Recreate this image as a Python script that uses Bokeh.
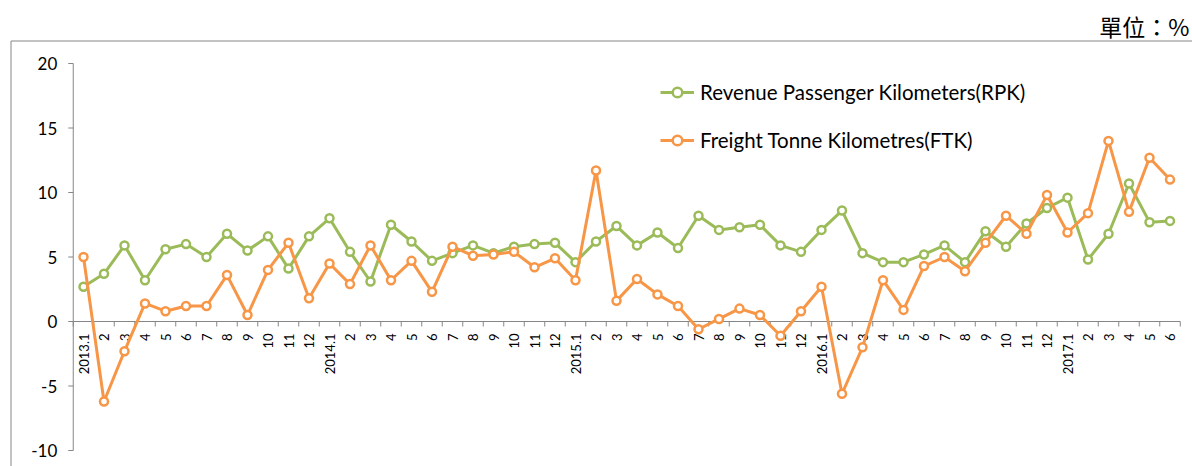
import math
from bokeh.plotting import figure
from bokeh.models import Range1d, Legend, LegendItem, ColumnDataSource
from bokeh.core.properties import value
from bokeh.embed import file_html
from bokeh.resources import INLINE

# ---------------- data ----------------
months = ["2013.1", "2", "3", "4", "5", "6", "7", "8", "9", "10", "11", "12",
          "2014.1", "2", "3", "4", "5", "6", "7", "8", "9", "10", "11", "12",
          "2015.1", "2", "3", "4", "5", "6", "7", "8", "9", "10", "11", "12",
          "2016.1", "2", "3", "4", "5", "6", "7", "8", "9", "10", "11", "12",
          "2017.1", "2", "3", "4", "5", "6"]

rpk = [2.7, 3.7, 5.9, 3.2, 5.6, 6.0, 5.0, 6.8, 5.5, 6.6, 4.1, 6.6,
       8.0, 5.4, 3.1, 7.5, 6.2, 4.7, 5.3, 5.9, 5.3, 5.8, 6.0, 6.1,
       4.6, 6.2, 7.4, 5.9, 6.9, 5.7, 8.2, 7.1, 7.3, 7.5, 5.9, 5.4,
       7.1, 8.6, 5.3, 4.6, 4.6, 5.2, 5.9, 4.6, 7.0, 5.8, 7.6, 8.8,
       9.6, 4.8, 6.8, 10.7, 7.7, 7.8]

ftk = [5.0, -6.2, -2.3, 1.4, 0.8, 1.2, 1.2, 3.6, 0.5, 4.0, 6.1, 1.8,
       4.5, 2.9, 5.9, 3.2, 4.7, 2.3, 5.8, 5.1, 5.2, 5.4, 4.2, 4.9,
       3.2, 11.7, 1.6, 3.3, 2.1, 1.2, -0.6, 0.2, 1.0, 0.5, -1.1, 0.8,
       2.7, -5.6, -2.0, 3.2, 0.9, 4.3, 5.0, 3.9, 6.1, 8.2, 6.8, 9.8,
       6.9, 8.4, 14.0, 8.5, 12.7, 11.0]

y_ticks = [-10, -5, 0, 5, 10, 15, 20]
y_tick_labels = ["-10", "-5", "0", "5", "10", "15", "20"]
series_names = ["Revenue Passenger Kilometers(RPK)", "Freight Tonne Kilometres(FTK)"]
unit_text = "單位：%"

# ---------------- layout (pixels) ----------------
W, H = 1192, 466
X0_PX, X_STEP = 83.0, 20.5      # pixel of first category, pixels per category
Y0_PX, Y_STEP = 321.0, 12.9     # pixel of value 0, pixels per unit

def dx(px):
    return (px - X0_PX) / X_STEP

def dy(py):
    return (Y0_PX - py) / Y_STEP

GREEN = "#9BBB59"
ORANGE = "#F79646"
AXIS = "#868686"
FONT = "Lato"

n = len(months)
xs = list(range(n))

p = figure(width=W, height=H, output_backend="svg", toolbar_location=None,
           x_axis_type=None, y_axis_type=None,
           x_range=Range1d(dx(0), dx(W)), y_range=Range1d(dy(H), dy(0)),
           min_border=0, min_border_left=0, min_border_right=0,
           min_border_top=0, min_border_bottom=0)
p.outline_line_color = None
p.xgrid.visible = False
p.ygrid.visible = False
p.background_fill_color = "white"
p.border_fill_color = "white"

# outer chart-area frame (left and top edges)
p.segment(x0=[dx(10.5), dx(10.5)], y0=[dy(40.5), dy(40.5)],
          x1=[dx(10.5), dx(W + 5)], y1=[dy(H + 5), dy(40.5)],
          line_color=AXIS, line_width=1)

# unit note
p.text(x=[dx(1189)], y=[dy(25)], text=[unit_text], text_align="right",
       text_baseline="middle", text_font=value("Noto Sans CJK TC"),
       text_font_size="23px", text_color="black")

# value axis
x_axis_pos = -0.5
p.segment(x0=[x_axis_pos], y0=[min(y_ticks)], x1=[x_axis_pos], y1=[max(y_ticks)],
          line_color=AXIS, line_width=1)
p.segment(x0=[x_axis_pos] * len(y_ticks), y0=y_ticks,
          x1=[x_axis_pos - 5 / X_STEP] * len(y_ticks), y1=y_ticks,
          line_color=AXIS, line_width=1)
p.text(x=[x_axis_pos] * len(y_ticks), y=y_ticks, text=y_tick_labels,
       x_offset=-16, text_align="right", text_baseline="middle",
       text_font=value(FONT), text_font_size="17px", text_color="black")

# category axis along zero
p.segment(x0=[-0.5], y0=[0], x1=[n - 0.5], y1=[0], line_color=AXIS, line_width=1)
bounds = [k - 0.5 for k in range(n + 1)]
p.segment(x0=bounds, y0=[0] * len(bounds), x1=bounds, y1=[-5 / Y_STEP] * len(bounds),
          line_color=AXIS, line_width=1)
p.text(x=xs, y=[0] * n, text=months, angle=math.pi / 2, text_align="right",
       text_baseline="middle", y_offset=12, text_font=value(FONT),
       text_font_size="13px", text_color="black")

# series
src = ColumnDataSource(dict(x=xs, rpk=rpk, ftk=ftk))
l1 = p.line("x", "rpk", source=src, line_color=GREEN, line_width=3)
s1 = p.scatter("x", "rpk", source=src, size=8, line_color=GREEN, line_width=2.5,
               fill_color="white")
l2 = p.line("x", "ftk", source=src, line_color=ORANGE, line_width=3)
s2 = p.scatter("x", "ftk", source=src, size=8, line_color=ORANGE, line_width=2.5,
               fill_color="white")

legend = Legend(items=[LegendItem(label=series_names[0], renderers=[l1, s1]),
                       LegendItem(label=series_names[1], renderers=[l2, s2])],
                location=(660, 314), orientation="vertical",
                border_line_color=None, background_fill_alpha=0,
                padding=0, margin=0, spacing=24, glyph_width=34, glyph_height=24,
                label_height=24, label_standoff=6,
                label_text_font=FONT, label_text_font_size="20.5px",
                label_text_color="black")
p.add_layout(legend)

open("out.html", "w").write(file_html(p, INLINE))
